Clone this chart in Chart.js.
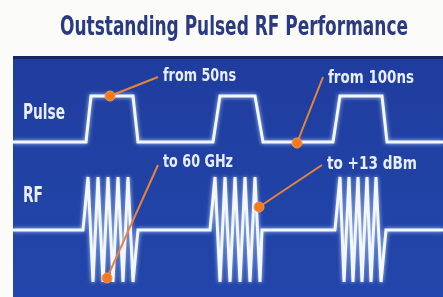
<!DOCTYPE html>
<html><head><meta charset="utf-8">
<script src="https://cdn.jsdelivr.net/npm/chart.js@4/dist/chart.umd.min.js"></script>
<style>html,body{margin:0;padding:0;background:#fbfbf9;}#c{display:block;}</style>
</head><body>
<canvas id="c" width="443" height="297"></canvas>
<script>
const titleText = "Outstanding Pulsed RF Performance";
const rowLabels = ["Pulse", "RF"];
const rowLabelY = [183, 100];

const pulseX = [13, 86, 91, 133, 138, 213, 220, 255, 263, 333, 340, 382, 387, 443];
const pulseY = [155,155,201,201,155,155,201,201,155,155,201,201,155,155];

const rfX = [13, 83, 88, 93, 98, 103, 108, 113, 118, 123, 128, 133, 138,
             210, 215, 220, 225, 230, 235, 240, 245, 250, 255, 260, 262,
             335, 340, 344, 349, 353, 358, 362, 367, 371, 376, 381, 386, 443];
const rfY = [67, 67, 120, 15, 120, 15, 120, 15, 120, 15, 120, 15, 67,
             67, 120, 15, 120, 15, 120, 15, 120, 15, 120, 15, 67,
             67, 120, 15, 120, 15, 120, 15, 120, 15, 120, 15, 67, 67];

const calloutText = ["from 50ns", "from 100ns", "to 60 GHz", "to +13 dBm"];
const calloutMarkX = [110, 297, 107, 259];
const calloutMarkY = [201, 154, 19, 90];
const calloutEndX = [158, 323, 158, 322];
const calloutEndY = [220, 220, 132, 132];
const calloutTextY = [221, 219, 135, 133];

const leaderSets = calloutText.map((t, i) => ({
  type: 'line',
  data: [{x: calloutMarkX[i], y: calloutMarkY[i]}, {x: calloutEndX[i], y: calloutEndY[i]}],
  borderColor: '#e8843a', borderWidth: 2, pointRadius: 0, order: 1, glow: false
}));

const panelPlugin = {
  id: 'panel',
  beforeDraw(chart) {
    const {ctx, chartArea: a} = chart;
    ctx.save();
    ctx.fillStyle = '#fbfbf9';
    ctx.fillRect(0, 0, chart.width, chart.height);
    const g = ctx.createLinearGradient(0, a.top, 0, a.bottom);
    g.addColorStop(0, '#1f3d9e');
    g.addColorStop(1, '#2346ac');
    ctx.fillStyle = g;
    ctx.fillRect(a.left, a.top, a.right - a.left, a.bottom - a.top);
    ctx.fillStyle = '#16285e';
    ctx.fillRect(a.left, a.top - 1, a.right - a.left, 3);
    // title
    ctx.fillStyle = '#2a3a80';
    ctx.font = 'bold 26px "DejaVu Sans Condensed", "Liberation Sans Narrow", sans-serif';
    ctx.textBaseline = 'middle';
    const w = ctx.measureText(titleText).width;
    const target = 348;
    ctx.translate(60, 28);
    ctx.scale(target / w, 1);
    ctx.fillText(titleText, 0, 0);
    ctx.restore();
  },
  beforeDatasetDraw(chart, args) {
    const ds = chart.data.datasets[args.index];
    if (ds.glow) {
      chart.ctx.save();
      chart.ctx.shadowColor = 'rgba(190,220,255,0.9)';
      chart.ctx.shadowBlur = 4;
    }
  },
  afterDatasetDraw(chart, args) {
    const ds = chart.data.datasets[args.index];
    if (ds.glow) chart.ctx.restore();
  },
  afterDraw(chart) {
    const {ctx, scales: {x, y}} = chart;
    ctx.save();
    ctx.textBaseline = 'middle';
    ctx.fillStyle = '#e8eeff';
    ctx.font = 'bold 21px "DejaVu Sans Condensed", sans-serif';
    rowLabels.forEach((t, i) => {
      const w = ctx.measureText(t).width;
      ctx.save();
      ctx.translate(23, y.getPixelForValue(rowLabelY[i]));
      const tw = i === 0 ? 42 : 20;
      ctx.scale(tw / w, 1);
      ctx.fillText(t, 0, 0);
      ctx.restore();
    });
    ctx.font = '600 18px "DejaVu Sans Condensed", sans-serif';
    const tws = [73, 86, 70, 90];
    calloutText.forEach((t, i) => {
      const w = ctx.measureText(t).width;
      ctx.save();
      ctx.translate(x.getPixelForValue(calloutEndX[i]) + 5, y.getPixelForValue(calloutTextY[i]));
      ctx.scale(tws[i] / w, 1);
      ctx.fillText(t, 0, 0);
      ctx.restore();
    });
    ctx.restore();
  }
};

new Chart(document.getElementById('c'), {
  type: 'line',
  data: {
    datasets: [
      {data: pulseX.map((v, i) => ({x: v, y: pulseY[i]})), borderColor: '#f4f7ff', borderWidth: 3, pointRadius: 0, tension: 0, order: 3, glow: true},
      {data: rfX.map((v, i) => ({x: v, y: rfY[i]})), borderColor: '#f4f7ff', borderWidth: 3, pointRadius: 0, tension: 0, order: 3, glow: true},
      ...leaderSets,
      {type: 'scatter', data: calloutMarkX.map((v, i) => ({x: v, y: calloutMarkY[i]})), backgroundColor: '#f27a1f', borderColor: '#f59a4a', borderWidth: 1, pointRadius: 5, order: 0, glow: false}
    ]
  },
  options: {
    responsive: false, animation: false,
    layout: {autoPadding: false, padding: {left: 13, top: 57, right: 0, bottom: 0}},
    plugins: {legend: {display: false}, tooltip: {enabled: false}, title: {display: false}},
    scales: {
      x: {type: 'linear', min: 13, max: 443, display: false},
      y: {type: 'linear', min: 0, max: 240, display: false}
    }
  },
  plugins: [panelPlugin]
});
</script>
</body></html>
